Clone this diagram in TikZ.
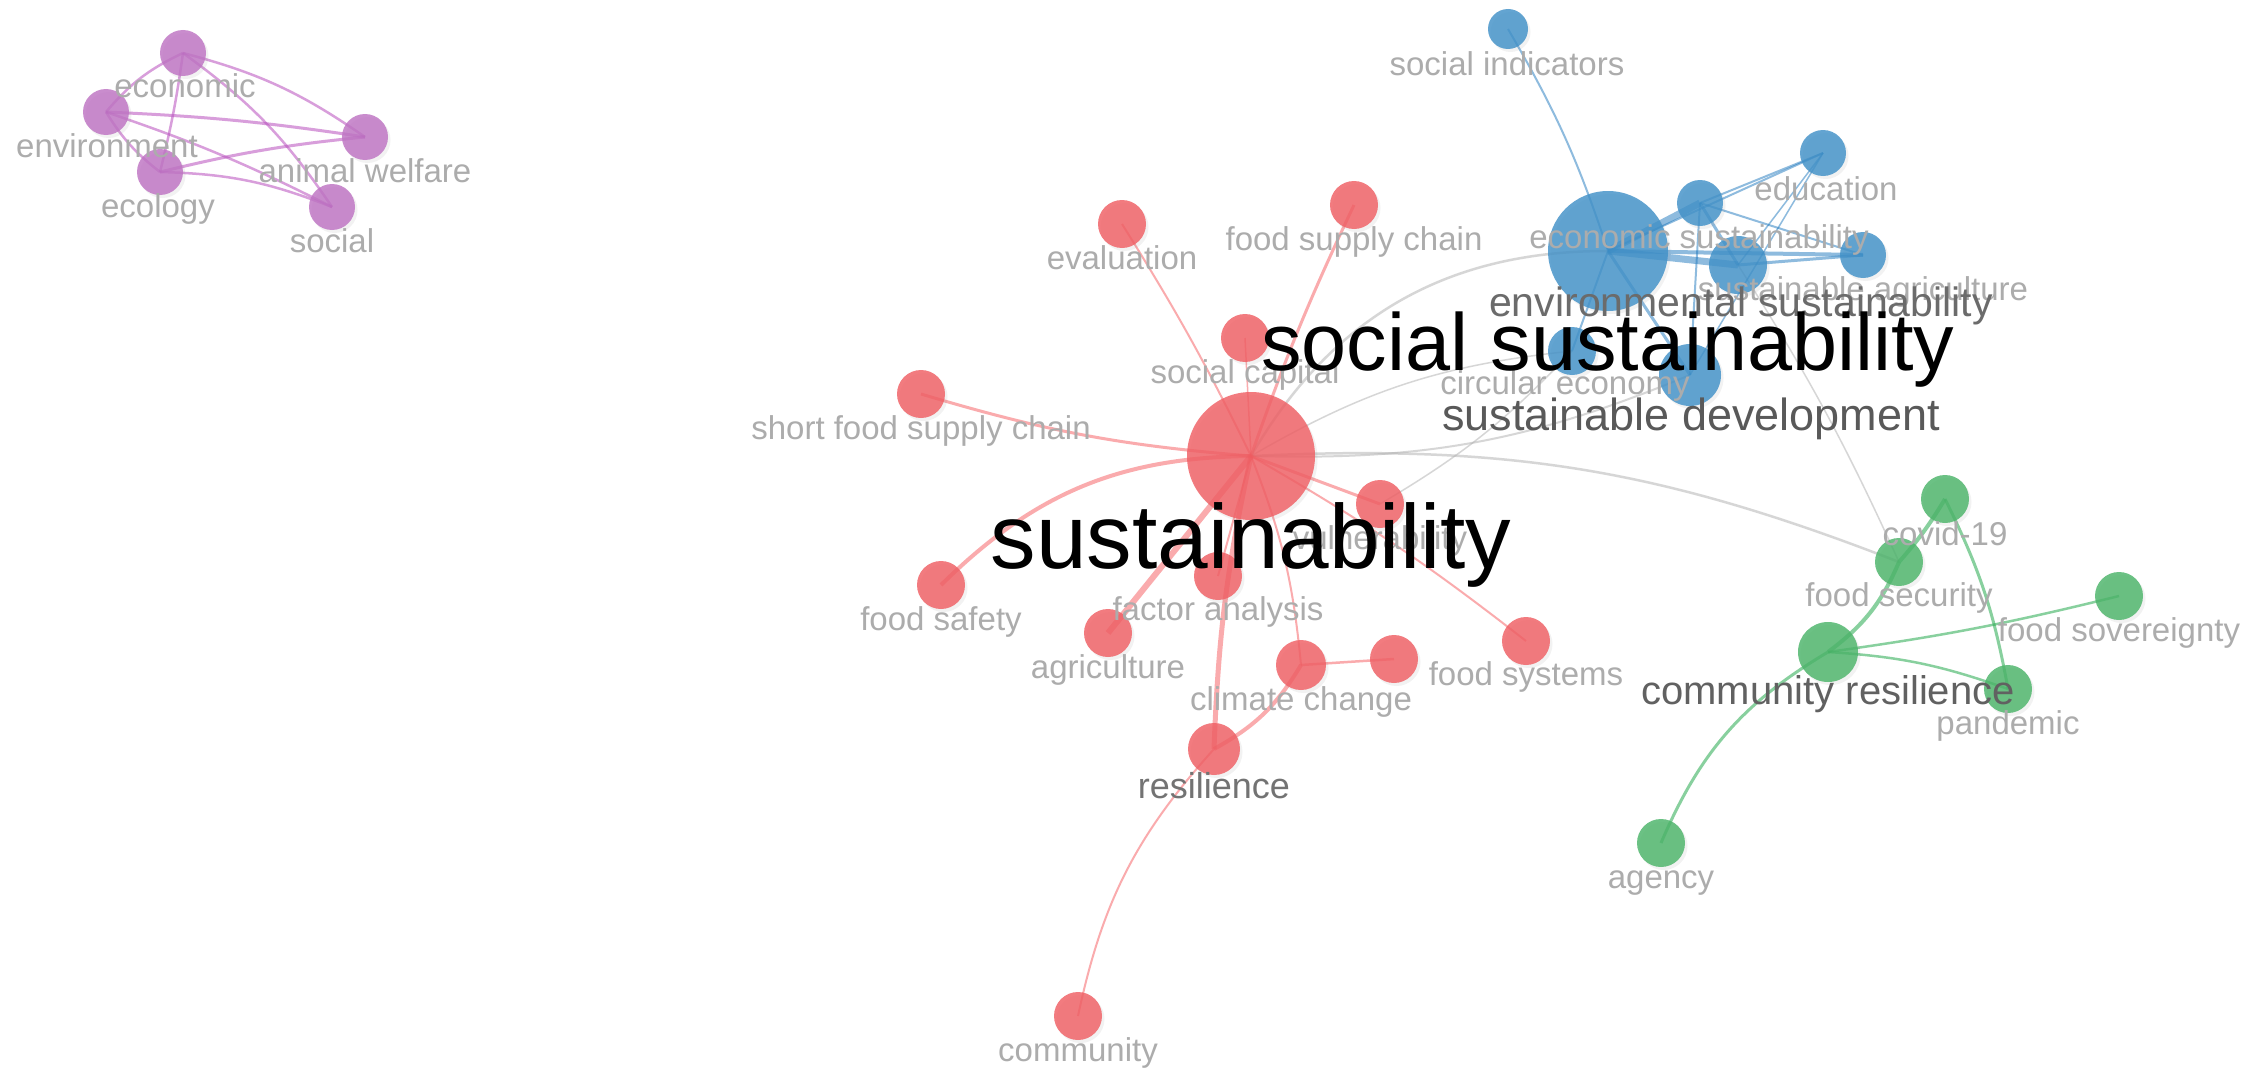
\documentclass[tikz,border=0pt]{standalone}
\usepackage{fontspec}
\setmainfont{Liberation Sans}
\usetikzlibrary{shadows}
\definecolor{cred}{RGB}{240,95,100}
\definecolor{cblue}{RGB}{65,145,200}
\definecolor{cgreen}{RGB}{75,180,105}
\definecolor{cpurp}{RGB}{190,115,195}
\definecolor{ered}{RGB}{245,70,75}
\definecolor{eblue}{RGB}{30,120,190}
\definecolor{egreen}{RGB}{40,170,80}
\definecolor{epurp}{RGB}{185,80,190}
\definecolor{egray}{RGB}{175,175,175}
\definecolor{lgray}{RGB}{172,172,172}
\pgfdeclarelayer{bg}
\pgfdeclarelayer{edges}
\pgfsetlayers{bg,edges,main}
\tikzset{
  kw/.style={circle, inner sep=0pt, draw=none, minimum size=#1, fill opacity=0.82,
    drop shadow={shadow xshift=2.5pt, shadow yshift=-3pt, opacity=0.10}},
  rn/.style={kw={#1}, fill=cred},
  bn/.style={kw={#1}, fill=cblue},
  gn/.style={kw={#1}, fill=cgreen},
  pn/.style={kw={#1}, fill=cpurp},
  lb/.style={anchor=base, inner sep=0pt, text=lgray, font=\fontsize{33}{33}\selectfont},
  lbm/.style={anchor=base, inner sep=0pt, text=#1},
  re/.style={draw=ered, draw opacity=0.45, line width=#1},
  be/.style={draw=eblue, draw opacity=0.5, line width=#1},
  ge/.style={draw=egreen, draw opacity=0.55, line width=#1},
  pe/.style={draw=epurp, draw opacity=0.55, line width=#1},
  ye/.style={draw=egray, draw opacity=0.5, line width=#1},
}
\begin{document}
\begin{tikzpicture}[x=1pt,y=-1pt]
\begin{pgfonlayer}{bg}
\fill[white] (0,0) rectangle (2247,1081);
\end{pgfonlayer}
\useasboundingbox (0,0) rectangle (2247,1081);

% ---------- purple cluster
\node[pn=46pt] (econ) at (183,53) {};
\node[pn=46pt] (envi) at (106,112) {};
\node[pn=46pt] (ecol) at (160,172) {};
\node[pn=46pt] (anim) at (365,137) {};
\node[pn=46pt] (soci) at (332,207) {};

% ---------- red cluster
\node[rn=128pt] (sus) at (1251,456) {};
\node[rn=48pt] (eval) at (1122,224) {};
\node[rn=48pt] (fsc) at (1354,205) {};
\node[rn=48pt] (scap) at (1245,338) {};
\node[rn=48pt] (sfsc) at (921,394) {};
\node[rn=48pt] (fsaf) at (941,585) {};
\node[rn=48pt] (agri) at (1108,633) {};
\node[rn=48pt] (fact) at (1218,576) {};
\node[rn=48pt] (vuln) at (1380,504) {};
\node[rn=50pt] (clim) at (1301,665) {};
\node[rn=48pt] (unk) at (1394,659) {};
\node[rn=48pt] (fsys) at (1526,641) {};
\node[rn=52pt] (resi) at (1214,749) {};
\node[rn=48pt] (comm) at (1078,1016) {};

% ---------- blue cluster
\node[bn=120pt] (ssus) at (1608,251) {};
\node[bn=40pt] (sind) at (1508,29) {};
\node[bn=46pt] (educ) at (1823,153) {};
\node[bn=46pt] (esus) at (1700,203) {};
\node[bn=58pt] (envs) at (1738,265) {};
\node[bn=46pt] (sagr) at (1863,255) {};
\node[bn=48pt] (circ) at (1572,351) {};
\node[bn=62pt] (sdev) at (1690,375) {};

% ---------- green cluster
\node[gn=48pt] (covid) at (1945,499) {};
\node[gn=48pt] (fsec) at (1899,562) {};
\node[gn=48pt] (fsov) at (2119,596) {};
\node[gn=60pt] (cres) at (1828,652) {};
\node[gn=48pt] (pand) at (2008,689) {};
\node[gn=48pt] (agen) at (1661,843) {};

% ---------- edges
\begin{pgfonlayer}{edges}
% gray (between clusters)
\draw[ye=2.5pt] (sus.center) to[bend left=30] (ssus.center);
\draw[ye=2pt] (sus.center) to[bend right=12] (sdev.center);
\draw[ye=1.5pt] (sus.center) to[bend left=12] (circ.center);
\draw[ye=2.5pt] (sus.center) to[bend left=12] (fsec.center);
\draw[ye=1.5pt] (vuln.center) to[bend right=8] (circ.center);
\draw[ye=1.5pt] (envs.center) to[bend left=4] (fsec.center);
% purple
\draw[pe=2.5pt] (econ.center) to[bend right=12] (envi.center);
\draw[pe=2.5pt] (econ.center) to[bend left=3] (ecol.center);
\draw[pe=2.5pt] (econ.center) to[bend left=10] (anim.center);
\draw[pe=2.5pt] (econ.center) to[bend left=10] (soci.center);
\draw[pe=3pt] (envi.center) to[bend left=3] (anim.center);
\draw[pe=2.5pt] (envi.center) to[bend left=4] (soci.center);
\draw[pe=2.5pt] (envi.center) to[bend right=10] (ecol.center);
\draw[pe=3pt] (ecol.center) to[bend left=4] (anim.center);
\draw[pe=2.5pt] (ecol.center) to[bend left=10] (soci.center);
% red
\draw[re=2pt] (sus.center) to[bend right=3] (eval.center);
\draw[re=3pt] (sus.center) to[bend left=3] (fsc.center);
\draw[re=1.5pt] (sus.center) -- (scap.center);
\draw[re=3pt] (sus.center) to[bend left=6] (sfsc.center);
\draw[re=4pt] (sus.center) to[bend right=22] (fsaf.center);
\draw[re=6pt] (sus.center) -- (agri.center);
\draw[re=2pt] (sus.center) -- (fact.center);
\draw[re=5pt] (sus.center) to[bend right=5] (resi.center);
\draw[re=2pt] (sus.center) to[bend left=8] (clim.center);
\draw[re=3pt] (sus.center) -- (vuln.center);
\draw[re=2pt] (sus.center) to[bend left=4] (fsys.center);
\draw[re=2.5pt] (clim.center) -- (unk.center);
\draw[re=4pt] (clim.center) to[bend left=15] (resi.center);
\draw[re=2pt] (resi.center) to[bend right=15] (comm.center);
% blue
\draw[be=2pt] (sind.center) to[bend left=6] (ssus.center);
\draw[be=7pt] (ssus.center) -- (esus.center);
\draw[be=7pt] (ssus.center) -- (envs.center);
\draw[be=4pt] (ssus.center) -- (sagr.center);
\draw[be=2pt] (ssus.center) -- (educ.center);
\draw[be=2pt] (ssus.center) -- (circ.center);
\draw[be=3pt] (ssus.center) -- (sdev.center);
\draw[be=2pt] (esus.center) -- (educ.center);
\draw[be=3pt] (esus.center) -- (envs.center);
\draw[be=2pt] (esus.center) -- (sagr.center);
\draw[be=2pt] (esus.center) -- (sdev.center);
\draw[be=1.5pt] (educ.center) -- (sdev.center);
\draw[be=1.5pt] (educ.center) -- (envs.center);
\draw[be=3pt] (envs.center) -- (sagr.center);
% green
\draw[ge=4pt] (cres.center) to[bend right=15] (fsec.center);
\draw[ge=4pt] (fsec.center) to[bend right=5] (covid.center);
\draw[ge=3pt] (covid.center) to[bend left=8] (pand.center);
\draw[ge=2.5pt] (cres.center) to[bend right=3] (fsov.center);
\draw[ge=2.5pt] (cres.center) to[bend left=8] (pand.center);
\draw[ge=3pt] (cres.center) to[bend right=18] (agen.center);
\end{pgfonlayer}

% ---------- small labels
\node[lb] (l-econ) at (185,98) {economic};
\node[lb] (l-envi) at (107,157) {environment};
\node[lb] (l-ecol) at (158,217) {ecology};
\node[lb] (l-anim) at (365,182) {animal welfare};
\node[lb] (l-soci) at (332,252) {social};

\node[lb] (l-eval) at (1122,269) {evaluation};
\node[lb] (l-fsc) at (1354,250) {food supply chain};
\node[lb] (l-scap) at (1245,383) {social capital};
\node[lb] (l-sfsc) at (921,439) {short food supply chain};
\node[lb] (l-fsaf) at (941,630) {food safety};
\node[lb] (l-agri) at (1108,678) {agriculture};
\node[lb] (l-fact) at (1218,620) {factor analysis};
\node[lb] (l-vuln) at (1380,549) {vulnerability};
\node[lb] (l-clim) at (1301,710) {climate change};
\node[lb] (l-fsys) at (1526,685) {food systems};
\node[lb] (l-comm) at (1078,1061) {community};

\node[lb] (l-sind) at (1507,76) {social indicators};
\node[lb] (l-educ) at (1826,200) {education};
\node[lb] (l-esus) at (1699,248) {economic sustainability};
\node[lb] (l-sagr) at (1863,300) {sustainable agriculture};
\node[lb] (l-circ) at (1565,394) {circular economy};

\node[lb] (l-covid) at (1945,545) {covid-19};
\node[lb] (l-fsec) at (1899,606) {food security};
\node[lb] (l-fsov) at (2119,641) {food sovereignty};
\node[lb] (l-pand) at (2008,734) {pandemic};
\node[lb] (l-agen) at (1661,888) {agency};

% ---------- medium labels
\node[lbm={black!55}, font=\fontsize{36}{36}\selectfont] (l-resi) at (1214,798) {resilience};
\node[lbm={black!58}, font=\fontsize{41}{41}\selectfont] (l-envs) at (1741,316) {environmental sustainability};
\node[lbm={black!65}, font=\fontsize{45}{45}\selectfont] (l-sdev) at (1691,430) {sustainable development};
\node[lbm={black!62}, font=\fontsize{40}{40}\selectfont] (l-cres) at (1828,704) {community resilience};

% ---------- big labels
\node[lbm=black, font=\fontsize{81}{81}\selectfont] (l-ssus) at (1608,370) {social sustainability};
\node[lbm=black, font=\fontsize{91}{91}\selectfont] (l-sus) at (1251,568) {sustainability};
\end{tikzpicture}
\end{document}
